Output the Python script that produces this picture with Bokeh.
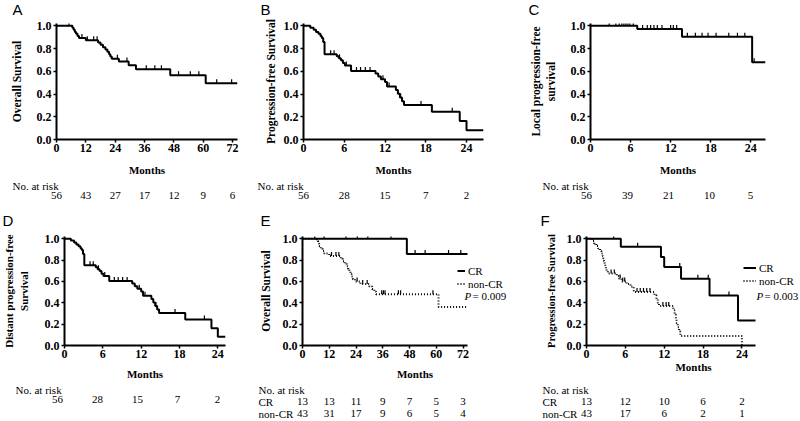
import numpy as np
from bokeh.plotting import figure
from bokeh.models import (Range1d, FixedTicker, PrintfTickFormatter, Label,
                          Legend, LegendItem)
from bokeh.layouts import row, column
from bokeh.core.properties import value
from bokeh.embed import file_html
from bokeh.resources import INLINE

SERIF = "Liberation Serif"
SANS = "Liberation Sans"

# ---------------- data ----------------
ticks_72 = [0, 12, 24, 36, 48, 60, 72]
ticks_24 = [0, 6, 12, 18, 24]
y_ticks = [0.0, 0.2, 0.4, 0.6, 0.8, 1.0]

# A: overall survival
a_event_t = [6.5, 7.0, 7.5, 8.0, 8.6, 9.2, 12.0, 17.0, 18.0, 19.0, 20.0, 20.8, 21.5, 22.0, 22.6,
             25.5, 29.5, 32.5, 46.5, 61.0]
a_event_s = [0.982, 0.964, 0.946, 0.929, 0.911, 0.893, 0.873, 0.853, 0.833, 0.812, 0.792, 0.771,
             0.750, 0.729, 0.709, 0.685, 0.652, 0.618, 0.565, 0.495]
a_cens_t = [5.1, 10.4, 12.6, 15.2, 16.6, 24.9, 28.8, 36.7, 40.2, 42.9, 49.9, 54.7, 58.2, 65.5, 71.6]
a_end = 74.0
a_risk = [56, 43, 27, 17, 12, 9, 6]

# B: progression-free survival
b_event_t = [1.0, 1.5, 1.85, 2.2, 2.5, 2.7, 2.9, 3.1, 4.9, 5.2, 5.5, 5.8, 6.1, 7.0, 10.6, 11.0,
             11.4, 12.0, 12.3, 13.6, 13.9, 14.2, 14.5, 14.8, 18.9, 23.0, 24.0]
b_event_s = [0.982, 0.964, 0.946, 0.929, 0.911, 0.893, 0.857, 0.750, 0.732, 0.714, 0.696, 0.672,
             0.650, 0.603, 0.580, 0.555, 0.530, 0.505, 0.465, 0.435, 0.403, 0.370, 0.337, 0.304,
             0.243, 0.162, 0.081]
b_cens_t = [4.0, 4.5, 5.3, 6.3, 7.8, 8.4, 9.1, 9.8, 11.7, 12.6, 14.3, 17.3, 21.9]
b_end = 26.5
b_risk = [56, 28, 15, 7, 2]

# C: local progression-free survival
c_event_t = [7.0, 13.7, 24.2]
c_event_s = [0.971, 0.904, 0.680]
c_cens_t = [2.8, 3.8, 4.3, 4.7, 5.0, 5.3, 5.6, 5.9, 6.4, 7.8, 8.5, 9.0, 9.5, 10.0, 10.7, 12.0,
            12.4, 12.9, 14.5, 15.7, 16.7, 17.6, 18.8, 20.7, 22.0, 23.1, 24.5]
c_end = 26.2
c_risk = [56, 39, 21, 10, 5]

# D: distant progression-free survival (the picture shows the same curve as B)
d_event_t = list(b_event_t)
d_event_s = list(b_event_s)
d_cens_t = list(b_cens_t)
d_end = 25.2
d_risk = [56, 28, 15, 7, 2]

# E: overall survival by response
e_cr_t = [46.8]
e_cr_s = [0.857]
e_cr_cens = [5.5, 9.7, 19.5, 24.6, 29.3, 39.7, 50.5, 55.0, 65.5, 71.0]
e_ncr_t = [6.5, 7.0, 7.5, 8.2, 9.0, 9.8, 12.0, 17.2, 18.0, 19.0, 19.8, 20.5, 21.0, 21.5, 22.0,
           22.6, 23.5, 26.0, 30.0, 31.2, 32.2, 33.0, 61.0]
e_ncr_s = [0.977, 0.953, 0.930, 0.907, 0.884, 0.860, 0.837, 0.813, 0.789, 0.765, 0.741, 0.717,
           0.693, 0.669, 0.645, 0.621, 0.600, 0.576, 0.552, 0.528, 0.504, 0.480, 0.360]
e_ncr_cens = [13.0, 15.0, 16.3, 24.5, 27.0, 29.0, 35.5, 36.3, 37.0, 43.0, 44.0, 58.5]
e_end = 74.0
e_risk_cr = [13, 13, 11, 9, 7, 5, 3]
e_risk_ncr = [43, 31, 17, 9, 6, 5, 4]
e_p = "= 0.009"

# F: progression-free survival by response
f_cr_t = [5.3, 11.5, 12.0, 14.6, 19.0, 23.4]
f_cr_s = [0.923, 0.827, 0.735, 0.625, 0.469, 0.234]
f_cr_cens = [4.2, 7.9, 14.4, 17.2, 18.8, 22.0]
f_ncr_t = [0.9, 1.2, 1.5, 1.8, 2.1, 2.3, 2.5, 2.6, 2.7, 2.8, 2.9, 3.0, 3.1, 3.3, 4.7, 5.0, 5.4,
           6.2, 6.8, 7.3, 10.5, 10.8, 11.0, 11.2, 13.4, 13.6, 13.8, 13.9, 14.1, 14.3, 14.5, 24.0]
f_ncr_s = [0.977, 0.953, 0.930, 0.907, 0.884, 0.860, 0.837, 0.814, 0.791, 0.767, 0.744, 0.721,
           0.698, 0.674, 0.650, 0.626, 0.600, 0.575, 0.550, 0.500, 0.470, 0.435, 0.400, 0.370,
           0.330, 0.290, 0.250, 0.210, 0.170, 0.130, 0.090, 0.0]
f_ncr_cens = [3.8, 4.3, 5.2, 5.6, 5.9, 7.8, 8.3, 8.8, 9.3, 9.8, 11.8, 12.3, 12.7]
f_cr_end = 26.1
f_ncr_end = 24.0
f_risk_cr = [13, 12, 10, 6, 2]
f_risk_ncr = [43, 17, 6, 2, 1]
f_p = "= 0.003"


# ---------------- helpers ----------------
def panel(w, h, bl, br, bt, bb, x_end, axis_px, xticks, ylabel, ylab_standoff, xlab_standoff,
          ylab_size="11.5px"):
    """Plot area whose x axis (0..x_end) spans axis_px pixels; frame may be wider."""
    k = axis_px / x_end
    frame_w = w - bl - br
    p = figure(width=w, height=h, x_range=Range1d(0, frame_w / k), y_range=Range1d(0, 1.02),
               output_backend="svg", toolbar_location=None,
               min_border_left=bl, min_border_right=br, min_border_top=bt, min_border_bottom=bb)
    p.outline_line_color = None
    p.xgrid.visible = False
    p.ygrid.visible = False
    p.background_fill_color = "white"
    p.border_fill_color = "white"
    xa, ya = p.xaxis[0], p.yaxis[0]
    xa.ticker = FixedTicker(ticks=xticks)
    xa.bounds = (0, x_end)
    ya.ticker = FixedTicker(ticks=y_ticks)
    ya.formatter = PrintfTickFormatter(format="%.1f")
    for ax in (xa, ya):
        ax.axis_line_width = 2
        ax.axis_line_color = "black"
        ax.major_tick_line_width = 1.5
        ax.major_tick_line_color = "black"
        ax.major_tick_out = 3
        ax.major_tick_in = 0
        ax.minor_tick_line_color = None
        ax.major_label_text_font = SERIF
        ax.major_label_text_font_style = "bold"
        ax.major_label_text_font_size = "12px"
        ax.major_label_text_color = "black"
        ax.axis_label_text_font = SERIF
        ax.axis_label_text_font_style = "bold"
        ax.axis_label_text_color = "black"
    xa.axis_label = "Months"
    xa.axis_label_text_font_size = "11px"
    xa.major_label_standoff = 1
    xa.axis_label_standoff = xlab_standoff
    ya.axis_label = ylabel
    ya.axis_label_text_font_size = ylab_size
    ya.major_label_standoff = 2
    ya.axis_label_standoff = ylab_standoff
    return p, k


def km(p, t, s, end, cens, dash=None, width=2.0):
    x = [0.0] + list(t) + [end]
    y = [1.0] + list(s) + [s[-1]]
    kw = dict(line_color="black", line_width=width)
    if dash:
        kw["line_dash"] = dash
    r = p.step(x=x, y=y, mode="after", **kw)
    idx = np.searchsorted(np.array(t), np.array(cens), side="right")
    levels = np.concatenate([[1.0], np.array(s)])
    p.ray(x=list(cens), y=list(levels[idx]), length=4, length_units="screen", angle=np.pi / 2,
          line_color="black", line_width=1.2)
    return r


def strip(w, h, bl, k):
    """Text-only figure sharing the month scale of the panel in the same column."""
    t = figure(width=w, height=h, x_range=Range1d(-bl / k, (w - bl) / k), y_range=Range1d(h, 0),
               x_axis_type=None, y_axis_type=None, output_backend="svg",
               toolbar_location=None, min_border=0)
    t.outline_line_color = None
    t.background_fill_color = "white"
    t.border_fill_color = "white"
    t.grid.visible = False
    t._bl, t._k = bl, k
    return t


def put(t, xs, ys, texts, align="center", font=SERIF, size="11px", baseline="middle"):
    t.text(x=list(xs), y=list(ys), text=list(texts), text_font=value(font),
           text_font_size=value(size), text_align=align, text_baseline=baseline,
           text_color="black")


def put_px(t, px, y, text, **kw):
    """Place a text at px pixels from the column's left edge."""
    put(t, [(px - t._bl) / t._k], [y], [text], **kw)


def letter(t, px, y, text, size="15px"):
    put_px(t, px, y, text, align="left", font=SANS, size=size, baseline="middle")


def lab(p, text, dx, dy, style="normal"):
    p.add_layout(Label(x=0, y=0, x_offset=dx, y_offset=dy, text=text, text_font=SERIF,
                       text_font_size="11px", text_font_style=style, text_align="left",
                       text_baseline="middle", text_color="black"))


def legend(p, items, loc, gw):
    leg = Legend(items=[LegendItem(label=lab_, renderers=[r]) for lab_, r in items], location=loc)
    leg.label_text_font = SERIF
    leg.label_text_font_size = "11px"
    leg.label_text_color = "black"
    leg.glyph_width = gw
    leg.glyph_height = 13
    leg.label_height = 13
    leg.label_standoff = 3
    leg.spacing = 0
    leg.padding = 0
    leg.margin = 0
    leg.border_line_color = None
    leg.background_fill_alpha = 0
    p.add_layout(leg)


# ---------------- layout geometry (page has no margin) ----------------
W1, W2, W3 = 256, 271, 273            # column widths (sum 800)
STRIP_H, TOP_H, MID_H = 18, 161, 50   # letter strip, top panels, top risk tables
BOT_H, LOW_H = 154, 37                # bottom panels, bottom risk tables (sum 420)

# ---- column 1: A / D ----
pA, kA = panel(W1, TOP_H, 56, 19, 5, 40, a_end, 181, ticks_72, "Overall Survival", 11, 9)
km(pA, a_event_t, a_event_s, a_end, a_cens_t)
sA = strip(W1, STRIP_H, 56, kA)
letter(sA, 12, 9, "A")
tA = strip(W1, MID_H, 56, kA)
put_px(tA, 12, 6.5, "No. at risk", align="left")
put(tA, ticks_72, [16] * len(ticks_72), [str(v) for v in a_risk])
letter(tA, 2, 40.5, "D")

pD, kD = panel(W1, BOT_H, 57, 31, 7, 38, d_end, 168, ticks_24, "Distant progression-free\nSurvival",
               12, 7, ylab_size="11px")
km(pD, d_event_t, d_event_s, d_end, d_cens_t)
tD = strip(W1, LOW_H, 57, kD)
put_px(tD, 15, 6.5, "No. at risk", align="left")
put(tD, ticks_24, [16] * len(ticks_24), [str(v) for v in d_risk])

# ---- column 2: B / E ----
pB, kB = panel(W2, TOP_H, 47, 44, 5, 40, b_end, 180, ticks_24, "Progression-free Survival", 4, 9)
km(pB, b_event_t, b_event_s, b_end, b_cens_t)
sB = strip(W2, STRIP_H, 47, kB)
letter(sB, 4, 9, "B")
tB = strip(W2, MID_H, 47, kB)
put_px(tB, 1, 6.5, "No. at risk", align="left")
put(tB, ticks_24, [16] * len(ticks_24), [str(v) for v in b_risk])
letter(tB, 4, 40.5, "E")

pE, kE = panel(W2, BOT_H, 46, 0, 7, 38, e_end, 165, ticks_72, "Overall Survival", 8, 7)
e1 = km(pE, e_cr_t, e_cr_s, e_end, e_cr_cens)
e2 = km(pE, e_ncr_t, e_ncr_s, e_end, e_ncr_cens, dash="1 2", width=2.0)
legend(pE, [("CR", e1), ("non-CR", e2)], (155, 55), 8)
lab(pE, "P", 162, 50, style="italic")
lab(pE, e_p, 170, 50)
tE = strip(W2, LOW_H, 46, kE)
put_px(tE, 2, 6.5, "No. at risk", align="left")
put_px(tE, 2, 18, "CR", align="left")
put_px(tE, 2, 30, "non-CR", align="left")
put(tE, ticks_72, [18] * len(ticks_72), [str(v) for v in e_risk_cr])
put(tE, ticks_72, [30] * len(ticks_72), [str(v) for v in e_risk_ncr])

# ---- column 3: C / F ----
pC, kC = panel(W3, TOP_H, 59, 35, 5, 40, c_end, 179, ticks_24, "Local progression-free\nsurvival", 11, 9)
km(pC, c_event_t, c_event_s, c_end, c_cens_t)
sC = strip(W3, STRIP_H, 59, kC)
letter(sC, 1, 9, "C")
tC = strip(W3, MID_H, 59, kC)
put_px(tC, 15, 6.5, "No. at risk", align="left")
put(tC, ticks_24, [16] * len(ticks_24), [str(v) for v in c_risk])
letter(tC, 13, 40.5, "F")

pF, kF = panel(W3, BOT_H, 59, 0, 7, 38, f_cr_end, 169, ticks_24, "Progression-free Survival", 7, 0,
               ylab_size="10.5px")
f1 = km(pF, f_cr_t, f_cr_s, f_cr_end, f_cr_cens)
f2 = km(pF, f_ncr_t, f_ncr_s, f_ncr_end, f_ncr_cens, dash="1 2", width=2.0)
legend(pF, [("CR", f1), ("non-CR", f2)], (157, 58), 13)
lab(pF, "P", 170, 50, style="italic")
lab(pF, f_p, 178, 50)
tF = strip(W3, LOW_H, 59, kF)
put_px(tF, 15, 6.5, "No. at risk", align="left")
put_px(tF, 15, 18, "CR", align="left")
put_px(tF, 15, 30, "non-CR", align="left")
put(tF, ticks_24, [18] * len(ticks_24), [str(v) for v in f_risk_cr])
put(tF, ticks_24, [30] * len(ticks_24), [str(v) for v in f_risk_ncr])

layout = column(
    row(sA, sB, sC),
    row(pA, pB, pC),
    row(tA, tB, tC),
    row(pD, pE, pF),
    row(tD, tE, tF),
)
open("out.html", "w").write(file_html(layout, INLINE, "Kaplan-Meier curves"))
